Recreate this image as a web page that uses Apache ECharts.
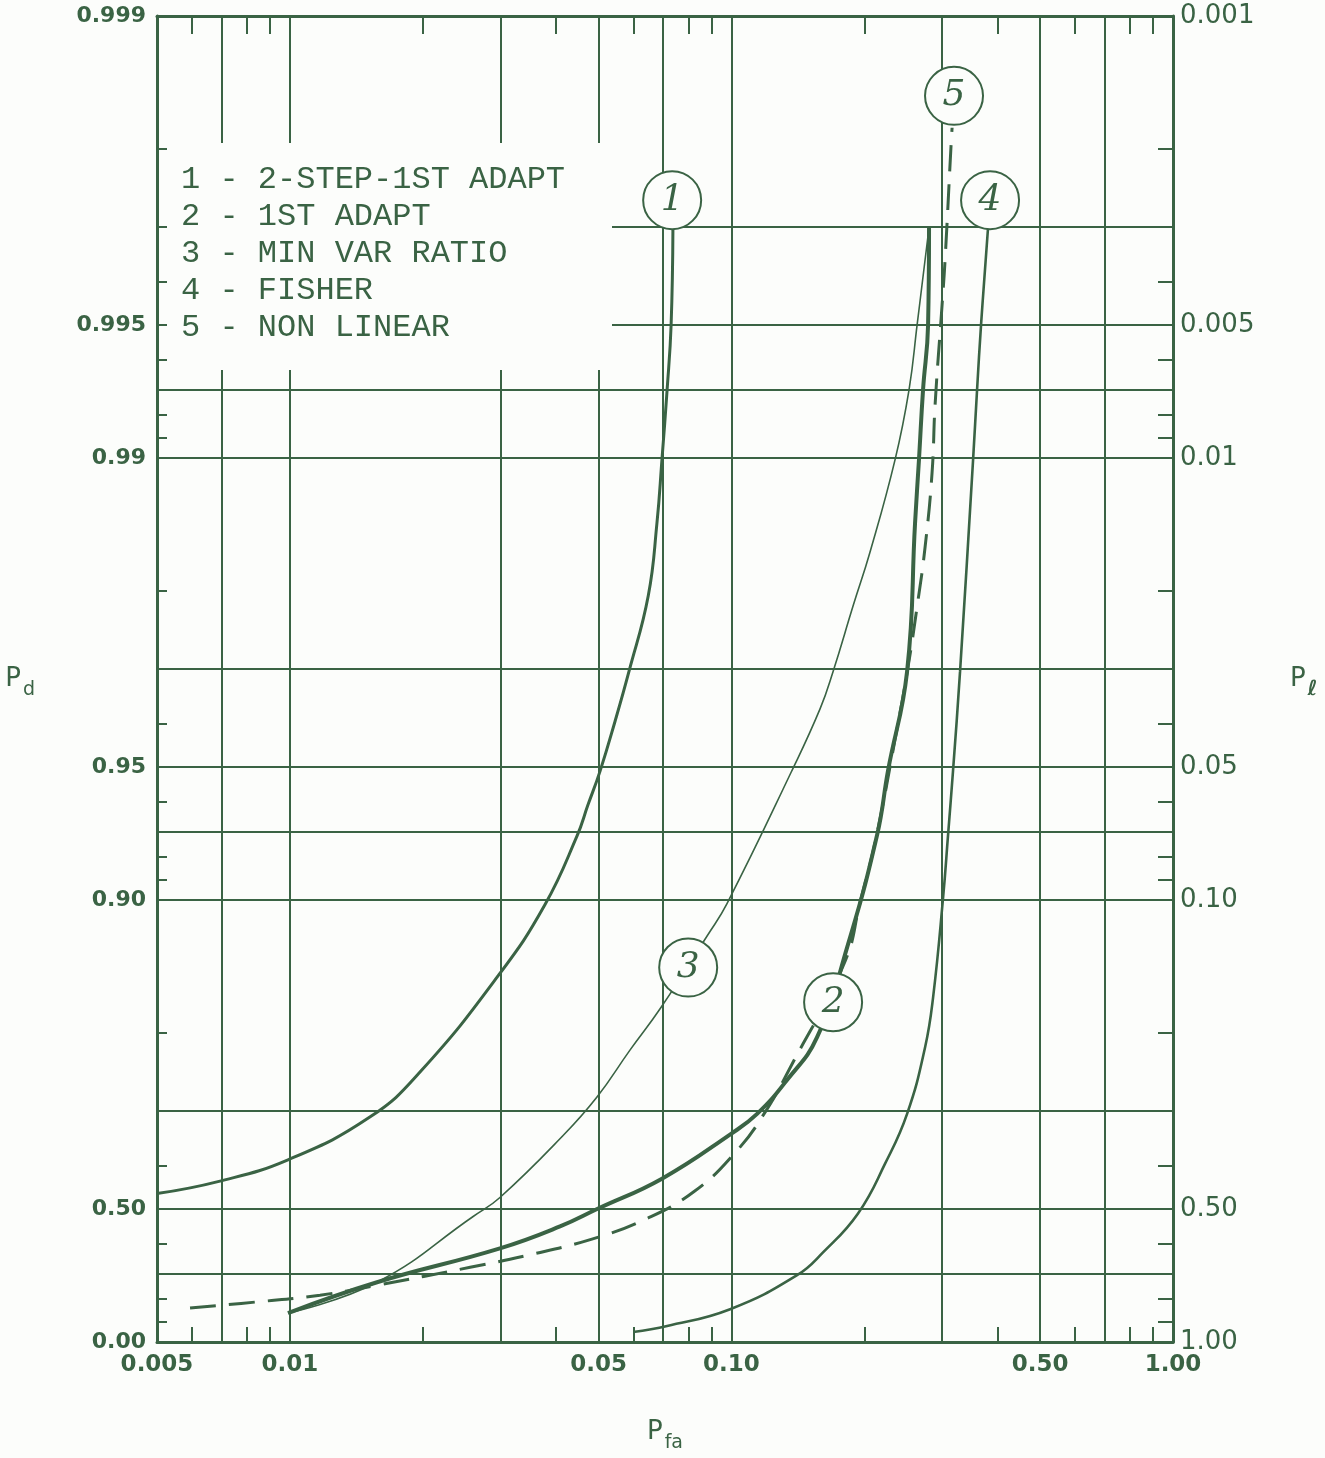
<!DOCTYPE html>
<html>
<head>
<meta charset="utf-8">
<script src="https://cdn.jsdelivr.net/npm/echarts@6/dist/echarts.min.js"></script>
<style>
html,body{margin:0;padding:0;background:#fcfdfb;}
#chart{width:1325px;height:1458px;}
</style>
</head>
<body>
<div id="chart"></div>
<script>
// ---------- axis values ----------
const pfaLabelValues = [0.005, 0.01, 0.05, 0.1, 0.5, 1];
const pfaLabelTexts  = ['0.005', '0.01', '0.05', '0.10', '0.50', '1.00'];
const pfaMinorTicks  = [0.006, 0.008, 0.009, 0.02, 0.04, 0.06, 0.08, 0.09, 0.2, 0.4, 0.6, 0.8, 0.9];
const pfaGridLines   = [0.007, 0.01, 0.03, 0.05, 0.07, 0.1, 0.3, 0.5, 0.7];

const plLabelValues  = [0.001, 0.005, 0.01, 0.05, 0.1, 0.5, 1];
const pdLabelTexts   = ['0.999', '0.995', '0.99', '0.95', '0.90', '0.50', '0.00'];
const plLabelTexts   = ['0.001', '0.005', '0.01', '0.05', '0.10', '0.50', '1.00'];
const plMinorTicks   = [0.002, 0.004, 0.006, 0.008, 0.009, 0.02, 0.04, 0.06, 0.08, 0.09, 0.2, 0.4, 0.6, 0.8, 0.9];
const plGridLines    = [0.003, 0.005, 0.007, 0.01, 0.03, 0.05, 0.07, 0.1, 0.3, 0.5, 0.7];

// ---------- series (x = Pfa, y = Pl = 1 - Pd) ----------
const curveNames = ['1 - 2-STEP-1ST ADAPT', '2 - 1ST ADAPT', '3 - MIN VAR RATIO', '4 - FISHER', '5 - NON LINEAR'];
const curveTags  = ['1', '2', '3', '4', '5'];

const curve1Pfa = [0.005, 0.00687, 0.0099, 0.0152, 0.0198, 0.02977, 0.0378, 0.0447, 0.0473, 0.0504, 0.0545, 0.0586, 0.0648, 0.0678, 0.0696, 0.0715, 0.0730, 0.0737];
const curve1Pl  = [0.4615, 0.4336, 0.387, 0.3095, 0.2438, 0.1474, 0.1025, 0.0716, 0.061, 0.0511, 0.0394, 0.0304, 0.0205, 0.01404, 0.01007, 0.0070, 0.005, 0.00301];

const curve2Pfa = [0.0099, 0.01575, 0.0299, 0.0409, 0.0499, 0.0696, 0.0998, 0.1143, 0.1336, 0.1563, 0.1828, 0.2137, 0.2263, 0.2499, 0.2605, 0.2659, 0.2716, 0.2788, 0.2802];
const curve2Pl  = [0.860, 0.7324, 0.614, 0.5477, 0.4989, 0.427, 0.338, 0.3047, 0.2555, 0.2043, 0.128, 0.0713, 0.0509, 0.0304, 0.01404, 0.01007, 0.0070, 0.005, 0.00301];

const curve3Pfa = [0.0099, 0.01575, 0.0260, 0.0299, 0.0413, 0.0496, 0.0589, 0.0693, 0.0885, 0.0977, 0.1365, 0.1588, 0.1699, 0.1886, 0.2060, 0.2348, 0.2525, 0.2633, 0.2802];
const curve3Pl  = [0.860, 0.7324, 0.520, 0.471, 0.3433, 0.279, 0.2186, 0.1749, 0.1197, 0.1019, 0.0514, 0.0369, 0.0304, 0.0216, 0.01632, 0.01007, 0.0070, 0.005, 0.00301];

const curve4Pfa = [0.0599, 0.0715, 0.0993, 0.1408, 0.1612, 0.1935, 0.2228, 0.2499, 0.2745, 0.2862, 0.3015, 0.3094, 0.3176, 0.3294, 0.3526, 0.3600, 0.3675, 0.3812];
const curve4Pl  = [0.949, 0.920, 0.843, 0.706, 0.627, 0.5117, 0.395, 0.3047, 0.2153, 0.166, 0.0988, 0.0713, 0.0509, 0.0304, 0.01007, 0.0070, 0.005, 0.00301];

const curve5Pfa = [0.00594, 0.00833, 0.0117, 0.01575, 0.0256, 0.0344, 0.0481, 0.0637, 0.0823, 0.1024, 0.1185, 0.1372, 0.1808, 0.1955, 0.2125, 0.2372, 0.2512, 0.2633, 0.2745, 0.2847, 0.2892, 0.2999, 0.3046, 0.3143, 0.3160];
const curve5Pl  = [0.838, 0.8124, 0.7836, 0.7438, 0.6776, 0.637, 0.5858, 0.528, 0.4567, 0.3711, 0.3047, 0.235, 0.1377, 0.1014, 0.0724, 0.0409, 0.02965, 0.0217, 0.0159, 0.01078, 0.00757, 0.00451, 0.00357, 0.00196, 0.00179];

// circled curve numbers (centre positions)
const tagPfa = [0.0734, 0.1699, 0.0798, 0.3852, 0.3192];
const tagPl  = [0.00261, 0.1704, 0.1422, 0.00261, 0.001516];

// ---------- styling ----------
const INK = '#3a6344';
const BG = '#fcfdfb';
const curveWidths = [3, 4, 1.6, 2.6, 3];
const curveDash = ['solid', 'solid', 'solid', 'solid', [26, 13]];

function zip(xs, ys) { return xs.map((x, i) => [x, ys[i]]); }
function lookup(vals, texts) {
  return function (v) {
    for (let i = 0; i < vals.length; i++) {
      if (Math.abs(v - vals[i]) / vals[i] < 1e-4) return texts[i];
    }
    return '';
  };
}

const curves = [
  zip(curve1Pfa, curve1Pl), zip(curve2Pfa, curve2Pl), zip(curve3Pfa, curve3Pl),
  zip(curve4Pfa, curve4Pl), zip(curve5Pfa, curve5Pl)
];

const series = curves.map((d, i) => ({
  name: curveNames[i],
  type: 'line',
  xAxisIndex: 0,
  yAxisIndex: 0,
  data: d,
  smooth: 0.45,
  symbol: 'none',
  showSymbol: false,
  silent: true,
  z: 2,
  lineStyle: { color: INK, width: curveWidths[i], type: curveDash[i] },
  itemStyle: { color: INK },
  markPoint: {
    silent: true,
    symbol: 'circle',
    symbolSize: 58,
    itemStyle: { color: BG, borderColor: INK, borderWidth: 2 },
    label: {
      show: true, position: 'inside', formatter: curveTags[i],
      color: INK, fontFamily: 'DejaVu Serif', fontStyle: 'italic', fontSize: 36
    },
    data: [{ coord: [tagPfa[i], tagPl[i]] }]
  }
}));

const xBase = { type: 'log', logBase: 10, min: 0.005, max: 1, gridIndex: 0 };
const yBase = { type: 'log', logBase: 10, min: 0.001, max: 1, inverse: true, gridIndex: 0 };
const axisLineStyle = { show: true, lineStyle: { color: INK, width: 3 } };

const option = {
  backgroundColor: BG,
  animation: false,
  grid: { left: 157, right: 152, top: 16, bottom: 112, containLabel: false },
  legend: {
    data: curveNames,
    orient: 'vertical',
    left: 170,
    top: 157,
    padding: 5,
    itemWidth: 0,
    itemHeight: 0,
    itemGap: 1,
    selectedMode: false,
    itemStyle: { opacity: 0 },
    lineStyle: { opacity: 0 },
    textStyle: { color: INK, fontFamily: 'Liberation Mono', fontSize: 32, lineHeight: 36 },
    z: 4
  },
  graphic: [{
    type: 'rect', z: 3, silent: true,
    shape: { x: 167, y: 143, width: 445, height: 227 },
    style: { fill: BG }
  }],
  xAxis: [
    Object.assign({}, xBase, {
      position: 'bottom',
      axisLine: axisLineStyle,
      axisTick: { show: true, inside: true, length: 15, customValues: pfaMinorTicks, lineStyle: { color: INK, width: 2 } },
      axisLabel: {
        show: true, customValues: pfaLabelValues, formatter: lookup(pfaLabelValues, pfaLabelTexts),
        color: INK, fontFamily: 'DejaVu Sans', fontWeight: 'bold', fontSize: 23, margin: 12
      },
      splitLine: { show: false },
      name: '{p|P}{s|fa}',
      nameLocation: 'middle',
      nameGap: 70,
      nameTextStyle: {
        rich: {
          p: { fontFamily: 'DejaVu Sans', fontSize: 26, color: INK },
          s: { fontFamily: 'DejaVu Sans', fontSize: 19, color: INK, padding: [22, 0, 0, 2] }
        }
      }
    }),
    Object.assign({}, xBase, {
      position: 'top',
      axisLine: axisLineStyle,
      axisTick: { show: true, inside: true, length: 18, customValues: pfaMinorTicks, lineStyle: { color: INK, width: 2 } },
      axisLabel: { show: false },
      splitLine: { show: false }
    }),
    Object.assign({}, xBase, {
      position: 'bottom',
      axisLine: { show: false },
      axisTick: { show: false, customValues: pfaGridLines },
      axisLabel: { show: false },
      splitLine: { show: true, lineStyle: { color: INK, width: 2 } }
    })
  ],
  yAxis: [
    Object.assign({}, yBase, {
      position: 'left',
      axisLine: axisLineStyle,
      axisTick: { show: true, inside: true, length: 10, customValues: plMinorTicks, lineStyle: { color: INK, width: 2 } },
      axisLabel: {
        show: true, customValues: plLabelValues, formatter: lookup(plLabelValues, pdLabelTexts),
        color: INK, fontFamily: 'DejaVu Sans', fontWeight: 'bold', fontSize: 22, margin: 11
      },
      splitLine: { show: false },
      name: '{p|P}{s|d}',
      nameLocation: 'middle',
      nameRotate: 0,
      nameGap: 122,
      nameTextStyle: {
        rich: {
          p: { fontFamily: 'DejaVu Sans', fontSize: 26, color: INK },
          s: { fontFamily: 'DejaVu Sans', fontSize: 19, color: INK, padding: [22, 0, 0, 2] }
        }
      }
    }),
    Object.assign({}, yBase, {
      position: 'right',
      axisLine: axisLineStyle,
      axisTick: { show: true, inside: true, length: 15, customValues: plMinorTicks, lineStyle: { color: INK, width: 2 } },
      axisLabel: {
        show: true, customValues: plLabelValues, formatter: lookup(plLabelValues, plLabelTexts),
        color: INK, fontFamily: 'DejaVu Sans', fontSize: 26, margin: 7
      },
      splitLine: { show: false },
      name: '{p|P}{s|ℓ}',
      nameLocation: 'middle',
      nameRotate: 0,
      nameGap: 117,
      nameTextStyle: {
        rich: {
          p: { fontFamily: 'DejaVu Sans', fontSize: 26, color: INK },
          s: { fontFamily: 'DejaVu Sans', fontSize: 21, fontWeight: 'bold', color: INK, padding: [22, 0, 0, 2] }
        }
      }
    }),
    Object.assign({}, yBase, {
      position: 'left',
      axisLine: { show: false },
      axisTick: { show: false, customValues: plGridLines },
      axisLabel: { show: false },
      splitLine: { show: true, lineStyle: { color: INK, width: 2 } }
    })
  ],
  series: series
};

const chart = echarts.init(document.getElementById('chart'), null, { renderer: 'canvas' });
chart.setOption(option);
</script>
</body>
</html>
